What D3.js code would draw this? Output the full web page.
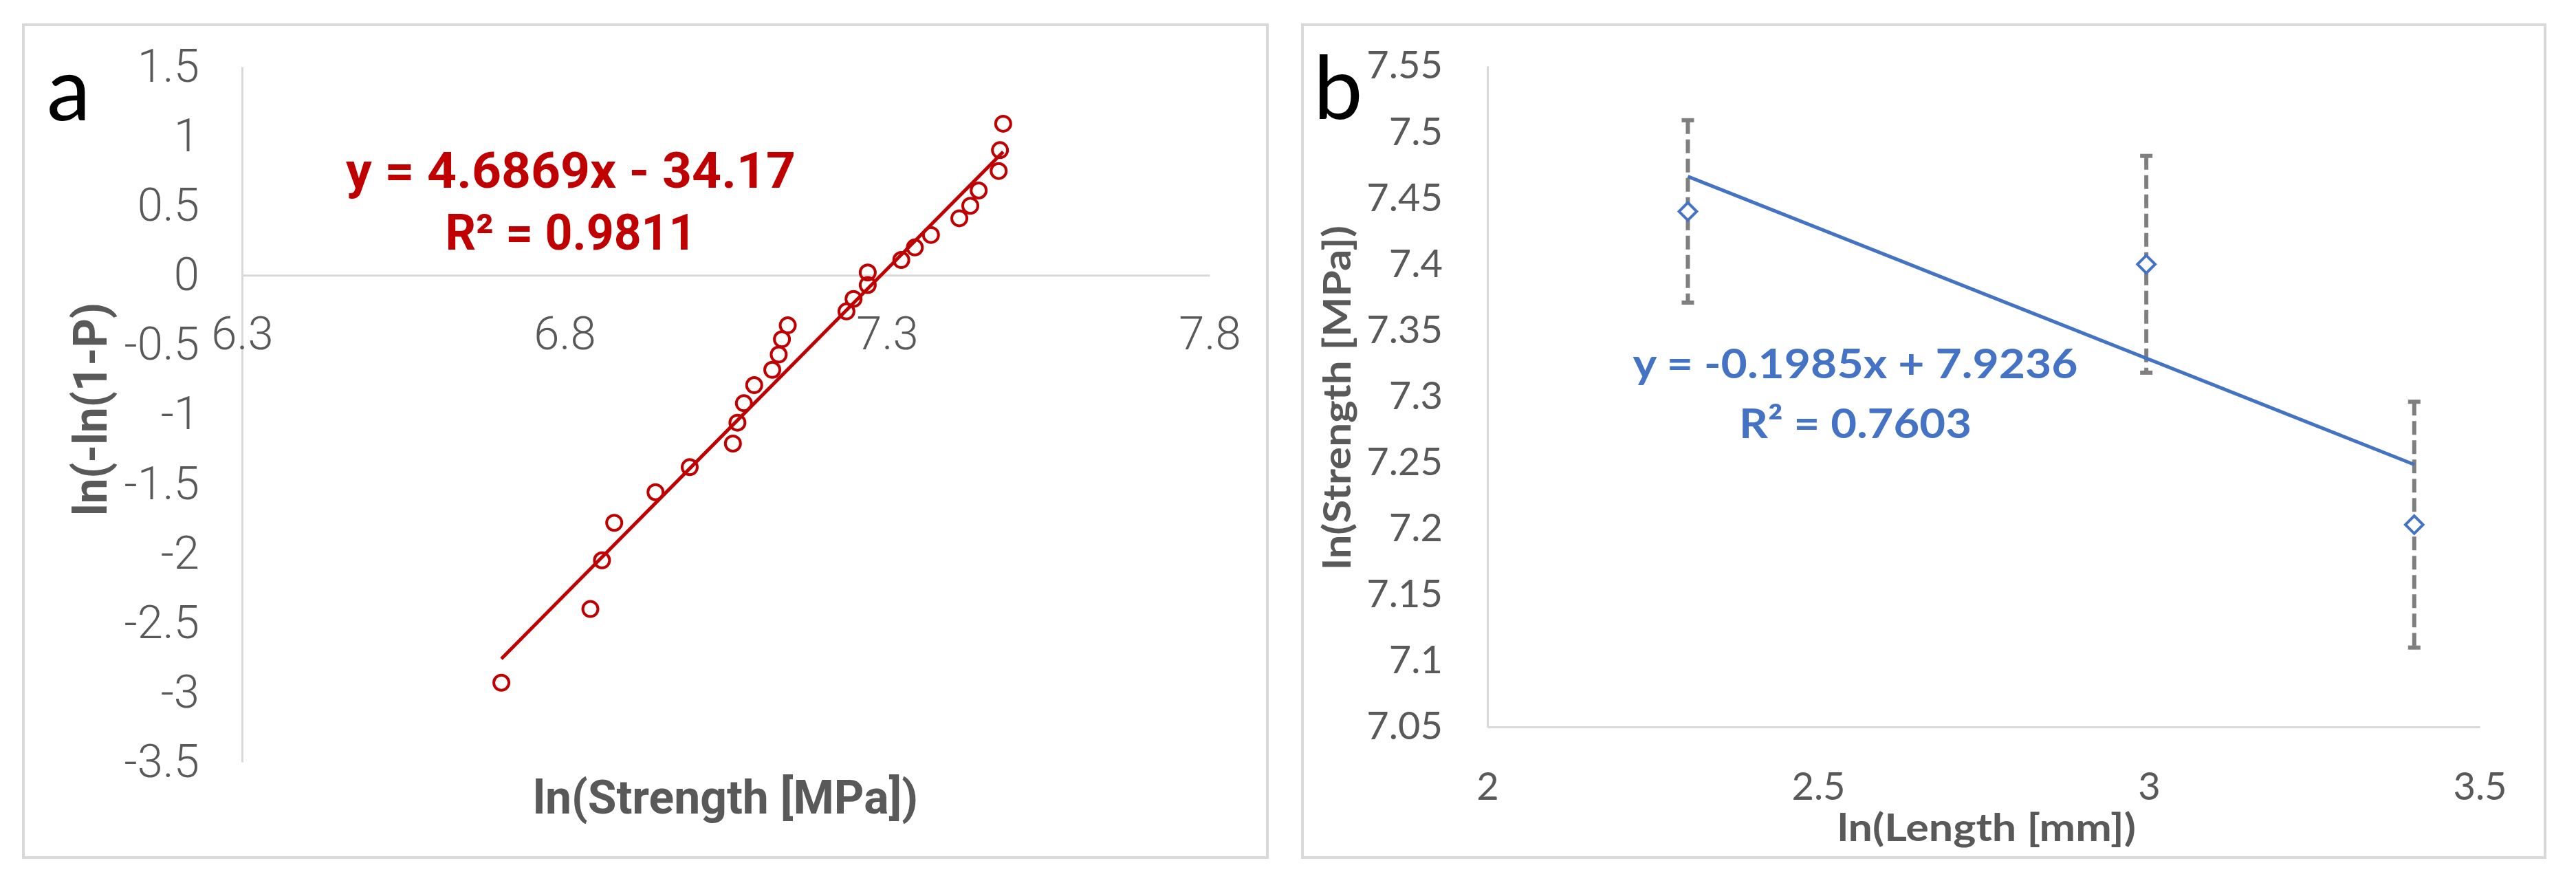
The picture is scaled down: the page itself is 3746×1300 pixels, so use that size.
<!DOCTYPE html>
<html>
<head>
<meta charset="utf-8">
<script src="https://cdn.jsdelivr.net/npm/d3@7/dist/d3.min.js"></script>
<style>
    body { margin: 0; background: #fff; }
    .tickA text { font-family: Roboto, "Open Sans", sans-serif; font-weight: 300; font-size: 67px; fill: #595959; }
    .tickB text { font-family: Lato, "Open Sans", sans-serif; font-size: 56px; fill: #595959; }
    .axis path { stroke: #d9d9d9; stroke-width: 3px; }
    .titleA { font-family: Roboto, sans-serif; font-weight: 700; font-size: 68px; fill: #595959; }
    .titleB { font-family: Lato, sans-serif; font-weight: 700; font-size: 56px; fill: #595959; }
    .panelLabel { font-family: Lato, sans-serif; font-size: 128px; fill: #000; }
</style>
</head>
<body>
<script>
//panel a: weibull plot data
var strengthLn = [6.702, 6.840, 6.858, 6.877, 6.941, 6.994, 7.061, 7.068, 7.078, 7.094, 7.122, 7.132, 7.137, 7.146,
    7.237, 7.248, 7.270, 7.270, 7.322, 7.343, 7.368, 7.412, 7.429, 7.442, 7.473, 7.475, 7.480];
var weibullY = [-2.93, -2.40, -2.05, -1.78, -1.56, -1.38, -1.21, -1.06, -0.92, -0.79, -0.68, -0.57, -0.46, -0.36,
    -0.26, -0.17, -0.07, 0.02, 0.11, 0.20, 0.29, 0.41, 0.50, 0.61, 0.75, 0.90, 1.09];
var fitA = [4.6869, -34.17]; //slope, intercept
var xTicksA = [6.3, 6.8, 7.3, 7.8];
var yTicksA = [1.5, 1, 0.5, 0, -0.5, -1, -1.5, -2, -2.5, -3, -3.5];
var eqA = ["y = 4.6869x - 34.17", "R² = 0.9811"];

//panel b: strength vs length
var lengthLn = [2.303, 2.996, 3.401];
var meanStrengthLn = [7.440, 7.400, 7.203];
var errStrengthLn = [0.069, 0.082, 0.093];
var fitB = [-0.1985, 7.9236];
var xTicksB = [2, 2.5, 3, 3.5];
var yTicksB = [7.05, 7.1, 7.15, 7.2, 7.25, 7.3, 7.35, 7.4, 7.45, 7.5, 7.55];
var eqB = ["y = -0.1985x + 7.9236", "R² = 0.7603"];

var red = "#C00000",
    blue = "#4472C4",
    gray = "#7F7F7F";

var svg = d3.select("body")
    .append("svg")
    .attr("width", 3746)
    .attr("height", 1300);

var fmt = function(d){ return String(+d.toFixed(2)); };

setPanelA();
setPanelB();

function setPanelA(){
    var g = svg.append("g");

    g.append("rect")
        .attr("x", 34).attr("y", 36)
        .attr("width", 1809).attr("height", 1211)
        .attr("fill", "none")
        .attr("stroke", "#d9d9d9")
        .attr("stroke-width", 4);

    var x = d3.scaleLinear().domain([6.3, 7.8]).range([352, 1759]);
    var y = d3.scaleLinear().domain([-3.5, 1.5]).range([1108, 97]);

    //vertical axis
    g.append("g")
        .attr("class", "axis tickA")
        .attr("transform", "translate(" + x(6.3) + ",0)")
        .call(d3.axisLeft(y).tickValues(yTicksA).tickSize(0).tickPadding(62).tickFormat(fmt))
        .selectAll("text").attr("font-size", null);

    //horizontal axis crosses at y = 0
    g.append("g")
        .attr("class", "axis tickA")
        .attr("transform", "translate(0," + y(0) + ")")
        .call(d3.axisBottom(x).tickValues(xTicksA).tickSize(0).tickPadding(60).tickFormat(fmt));

    g.selectAll(".axis text").attr("font-family", null);

    //trend line over the data range
    var ext = d3.extent(strengthLn);
    g.append("line")
        .attr("x1", x(ext[0])).attr("y1", y(fitA[0] * ext[0] + fitA[1]))
        .attr("x2", x(ext[1])).attr("y2", y(fitA[0] * ext[1] + fitA[1]))
        .attr("stroke", red)
        .attr("stroke-width", 5);

    g.selectAll(".pt")
        .data(strengthLn)
        .enter()
        .append("circle")
        .attr("class", "pt")
        .attr("cx", function(d){ return x(d); })
        .attr("cy", function(d, i){ return y(weibullY[i]); })
        .attr("r", 11)
        .attr("fill", "none")
        .attr("stroke", red)
        .attr("stroke-width", 4);

    //equation label
    var lens = [654, 365];
    g.selectAll(".eq")
        .data(eqA)
        .enter()
        .append("text")
        .attr("x", 830)
        .attr("y", function(d, i){ return 273 + i * 90; })
        .attr("text-anchor", "middle")
        .attr("textLength", function(d, i){ return lens[i]; })
        .attr("lengthAdjust", "spacingAndGlyphs")
        .style("font-family", "Roboto, sans-serif")
        .style("font-weight", 700)
        .style("font-size", "73px")
        .style("fill", red)
        .text(function(d){ return d; });

    g.append("text")
        .attr("class", "titleA")
        .attr("x", 1055).attr("y", 1183)
        .attr("text-anchor", "middle")
        .attr("textLength", 560)
        .attr("lengthAdjust", "spacingAndGlyphs")
        .text("ln(Strength [MPa])");

    g.append("text")
        .attr("class", "titleA")
        .attr("transform", "translate(155,595) rotate(-90)")
        .attr("text-anchor", "middle")
        .attr("textLength", 310)
        .attr("lengthAdjust", "spacingAndGlyphs")
        .text("ln(-ln(1-P)");

    g.append("text")
        .attr("class", "panelLabel")
        .attr("x", 68).attr("y", 175)
        .text("a");
};

function setPanelB(){
    var g = svg.append("g");

    g.append("rect")
        .attr("x", 1894).attr("y", 36)
        .attr("width", 1807).attr("height", 1211)
        .attr("fill", "none")
        .attr("stroke", "#d9d9d9")
        .attr("stroke-width", 4);

    var x = d3.scaleLinear().domain([2, 3.5]).range([2163, 3606]);
    var y = d3.scaleLinear().domain([7.05, 7.55]).range([1057, 96]);

    g.append("g")
        .attr("class", "axis tickB")
        .attr("transform", "translate(" + x(2) + ",0)")
        .call(d3.axisLeft(y).tickValues(yTicksB).tickSize(0).tickPadding(65).tickFormat(fmt));

    g.append("g")
        .attr("class", "axis tickB")
        .attr("transform", "translate(0," + y(7.05) + ")")
        .call(d3.axisBottom(x).tickValues(xTicksB).tickSize(0).tickPadding(66).tickFormat(fmt));

    g.selectAll(".axis text").attr("font-family", null).attr("font-size", null);

    //error bars
    var bars = g.selectAll(".err")
        .data(lengthLn)
        .enter()
        .append("g")
        .attr("class", "err");

    bars.append("line")
        .attr("x1", function(d){ return x(d); })
        .attr("x2", function(d){ return x(d); })
        .attr("y1", function(d, i){ return y(meanStrengthLn[i] + errStrengthLn[i]); })
        .attr("y2", function(d, i){ return y(meanStrengthLn[i] - errStrengthLn[i]); })
        .attr("stroke", gray)
        .attr("stroke-width", 6)
        .attr("stroke-dasharray", "20,8");

    [1, -1].forEach(function(s){
        bars.append("line")
            .attr("x1", function(d){ return x(d) - 9; })
            .attr("x2", function(d){ return x(d) + 9; })
            .attr("y1", function(d, i){ return y(meanStrengthLn[i] + s * errStrengthLn[i]); })
            .attr("y2", function(d, i){ return y(meanStrengthLn[i] + s * errStrengthLn[i]); })
            .attr("stroke", gray)
            .attr("stroke-width", 6);
    });

    //trend line
    var ext = d3.extent(lengthLn);
    g.append("line")
        .attr("x1", x(ext[0])).attr("y1", y(fitB[0] * ext[0] + fitB[1]))
        .attr("x2", x(ext[1])).attr("y2", y(fitB[0] * ext[1] + fitB[1]))
        .attr("stroke", blue)
        .attr("stroke-width", 5);

    //diamond markers
    g.selectAll(".pt")
        .data(lengthLn)
        .enter()
        .append("path")
        .attr("class", "pt")
        .attr("d", d3.symbol(d3.symbolSquare, 330))
        .attr("transform", function(d, i){
            return "translate(" + x(d) + "," + y(meanStrengthLn[i]) + ") rotate(45)";
        })
        .attr("fill", "#fff")
        .attr("stroke", blue)
        .attr("stroke-width", 4);

    var lens = [647, 338];
    g.selectAll(".eq")
        .data(eqB)
        .enter()
        .append("text")
        .attr("x", 2698)
        .attr("y", function(d, i){ return 550 + i * 87; })
        .attr("text-anchor", "middle")
        .attr("textLength", function(d, i){ return lens[i]; })
        .attr("lengthAdjust", "spacingAndGlyphs")
        .style("font-family", "Lato, sans-serif")
        .style("font-weight", 700)
        .style("font-size", "60px")
        .style("fill", blue)
        .text(function(d){ return d; });

    g.append("text")
        .attr("class", "titleB")
        .attr("x", 2889).attr("y", 1223)
        .attr("text-anchor", "middle")
        .attr("textLength", 434)
        .attr("lengthAdjust", "spacingAndGlyphs")
        .text("ln(Length [mm])");

    g.append("text")
        .attr("class", "titleB")
        .attr("transform", "translate(1964,578) rotate(-90)")
        .attr("text-anchor", "middle")
        .attr("textLength", 500)
        .attr("lengthAdjust", "spacingAndGlyphs")
        .text("ln(Strength [MPa])");

    g.append("text")
        .attr("class", "panelLabel")
        .attr("x", 1910).attr("y", 173)
        .text("b");
};
</script>
</body>
</html>
